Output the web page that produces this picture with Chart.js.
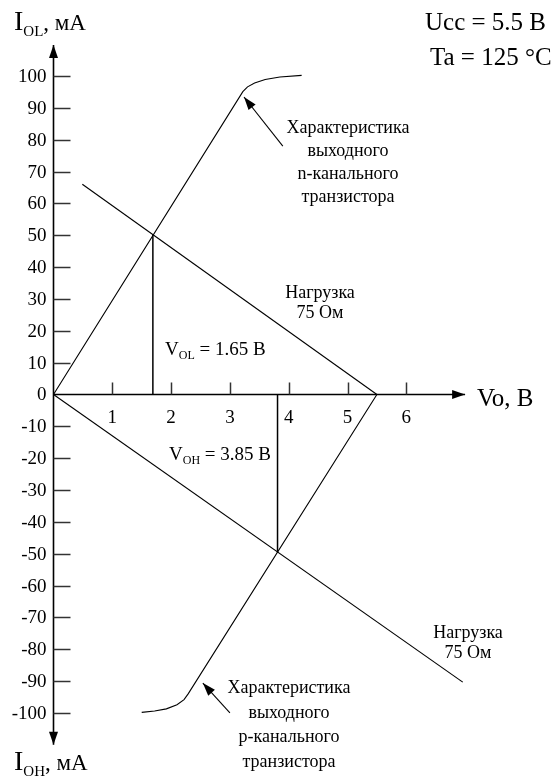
<!DOCTYPE html>
<html>
<head>
<meta charset="utf-8">
<script src="https://cdn.jsdelivr.net/npm/chart.js@4.4.1/dist/chart.umd.min.js"></script>
<style>
html,body{margin:0;padding:0;background:#fff;}
#wrap{width:556px;height:780px;position:relative;}
</style>
</head>
<body>
<div id="wrap"><canvas id="c"></canvas></div>
<script>
// ---- data (V, mA) ----
const xTicks = [1, 2, 3, 4, 5, 6];
const yTicks = [100, 90, 80, 70, 60, 50, 40, 30, 20, 10, 0, -10, -20, -30, -40, -50, -60, -70, -80, -90, -100];
const nChannel = [{x:0,y:0},{x:3.22,y:95.1},{x:3.30,y:96.6},{x:3.42,y:97.8},{x:3.60,y:98.9},{x:3.85,y:99.7},{x:4.22,y:100.2}];
const pChannel = [{x:5.5,y:0},{x:2.29,y:-94.0},{x:2.22,y:-95.8},{x:2.10,y:-97.4},{x:1.92,y:-98.7},{x:1.72,y:-99.4},{x:1.50,y:-99.8}];
const loadUpper = [{x:0.49,y:66},{x:5.5,y:0}];
const loadLower = [{x:0,y:0},{x:6.96,y:-90.3}];
const vOL = [{x:1.69,y:0},{x:1.69,y:50.2}];
const vOH = [{x:3.81,y:0},{x:3.81,y:-49.6}];
const arrowN = [{x:3.90,y:78.0},{x:3.24,y:93.4}];
const arrowP = [{x:3.00,y:-100.0},{x:2.54,y:-90.6}];
const axisX = [{x:0,y:0},{x:7.0,y:0}];
const axisY = [{x:0,y:-110},{x:0,y:109.7}];

const SERIF = '"Liberation Serif", "Times New Roman", serif';
function font(sz){ return sz + 'px ' + SERIF; }

function rich(ctx, x, y, parts, align){
  let w = 0;
  parts.forEach(p=>{ ctx.font = font(p.s); w += ctx.measureText(p.t).width; });
  let cx = align==='center' ? x - w/2 : (align==='right' ? x - w : x);
  ctx.textAlign = 'left'; ctx.textBaseline = 'alphabetic';
  parts.forEach(p=>{ ctx.font = font(p.s); ctx.fillText(p.t, cx, y + (p.dy||0)); cx += ctx.measureText(p.t).width; });
}
function lines(ctx, x, y0, step, arr, sz){
  ctx.font = font(sz); ctx.textAlign='center'; ctx.textBaseline='alphabetic';
  arr.forEach((t,i)=>ctx.fillText(t, x, y0 + i*step));
}
function arrowHead(ctx, from, to, len, half){
  const a = Math.atan2(to.y-from.y, to.x-from.x);
  ctx.beginPath();
  ctx.moveTo(to.x, to.y);
  ctx.lineTo(to.x - len*Math.cos(a) + half*Math.sin(a), to.y - len*Math.sin(a) - half*Math.cos(a));
  ctx.lineTo(to.x - len*Math.cos(a) - half*Math.sin(a), to.y - len*Math.sin(a) + half*Math.cos(a));
  ctx.closePath(); ctx.fill();
}

const decor = {
  id:'decor',
  afterDatasetsDraw(chart){
    const ctx = chart.ctx, xs = chart.scales.x, ys = chart.scales.y;
    const P = p => ({x: xs.getPixelForValue(p.x), y: ys.getPixelForValue(p.y)});
    ctx.save();
    ctx.fillStyle = '#000'; ctx.strokeStyle = '#000';
    // tick marks
    ctx.lineWidth = 1.5; ctx.strokeStyle = '#333';
    const x0 = xs.getPixelForValue(0), y0 = ys.getPixelForValue(0);
    yTicks.forEach(v=>{ if(v===0) return; const py = Math.round(ys.getPixelForValue(v))+0.5; ctx.beginPath(); ctx.moveTo(x0, py); ctx.lineTo(x0+17, py); ctx.stroke(); });
    xTicks.forEach(v=>{ const px = Math.round(xs.getPixelForValue(v))+0.5; ctx.beginPath(); ctx.moveTo(px, y0); ctx.lineTo(px, y0-12); ctx.stroke(); });
    // arrowheads
    ctx.fillStyle = '#000';
    arrowHead(ctx, P(axisX[0]), P(axisX[1]), 13, 4.5);
    arrowHead(ctx, P(axisY[0]), P(axisY[1]), 13, 4.5);
    arrowHead(ctx, P(axisY[1]), P(axisY[0]), 13, 4.5);
    arrowHead(ctx, P(arrowN[0]), P(arrowN[1]), 13, 4.5);
    arrowHead(ctx, P(arrowP[0]), P(arrowP[1]), 13, 4.5);
    // tick labels
    ctx.font = font(19); ctx.textAlign='right'; ctx.textBaseline='middle';
    yTicks.forEach(v=>{ ctx.fillText(String(v), x0-7, ys.getPixelForValue(v)+1); });
    ctx.textAlign='center'; ctx.textBaseline='alphabetic';
    xTicks.forEach(v=>{ ctx.fillText(String(v), xs.getPixelForValue(v), y0+29); });
    // axis titles
    rich(ctx, 14, 30, [{t:'I',s:28},{t:'OL',s:15,dy:6},{t:', мА',s:23}], 'left');
    rich(ctx, 14, 770, [{t:'I',s:28},{t:'OH',s:15,dy:6},{t:', мА',s:23}], 'left');
    ctx.font = font(25); ctx.textAlign='left';
    ctx.fillText('Vo, B', 477, 406);
    ctx.fillText('Ucc = 5.5 B', 425, 30);
    ctx.fillText('Ta = 125 °C', 430, 65);
    // annotations
    lines(ctx, 348, 133, 23, ['Характеристика','выходного','n-канального','транзистора'], 18);
    lines(ctx, 320, 298, 20, ['Нагрузка','75 Ом'], 18);
    lines(ctx, 468, 638, 20, ['Нагрузка','75 Ом'], 18);
    lines(ctx, 289, 693, 24.7, ['Характеристика','выходного','р-канального','транзистора'], 18);
    rich(ctx, 165, 355, [{t:'V',s:19},{t:'OL',s:12,dy:4},{t:' = 1.65 B',s:19}], 'left');
    rich(ctx, 169, 460, [{t:'V',s:19},{t:'OH',s:12,dy:4},{t:' = 3.85 B',s:19}], 'left');
    ctx.restore();
  }
};

const ds = (data, w) => ({data, showLine:true, borderColor:'#000', borderWidth:w||1.1, pointRadius:0, fill:false, tension:0});

new Chart(document.getElementById('c'), {
  type:'scatter',
  data:{datasets:[
    ds(axisX,1.6), ds(axisY,1.6),
    ds(nChannel), ds(pChannel), ds(loadUpper), ds(loadLower),
    ds(vOL,1.5), ds(vOH,1.5), ds(arrowN), ds(arrowP)
  ]},
  options:{
    responsive:true, maintainAspectRatio:false, animation:false,
    layout:{padding:0},
    plugins:{legend:{display:false}, tooltip:{enabled:false}},
    scales:{
      x:{type:'linear', display:false, min:-0.9099, max:8.5459},
      y:{type:'linear', display:false, min:-121.04, max:123.86}
    }
  },
  plugins:[decor]
});
</script>
</body>
</html>
